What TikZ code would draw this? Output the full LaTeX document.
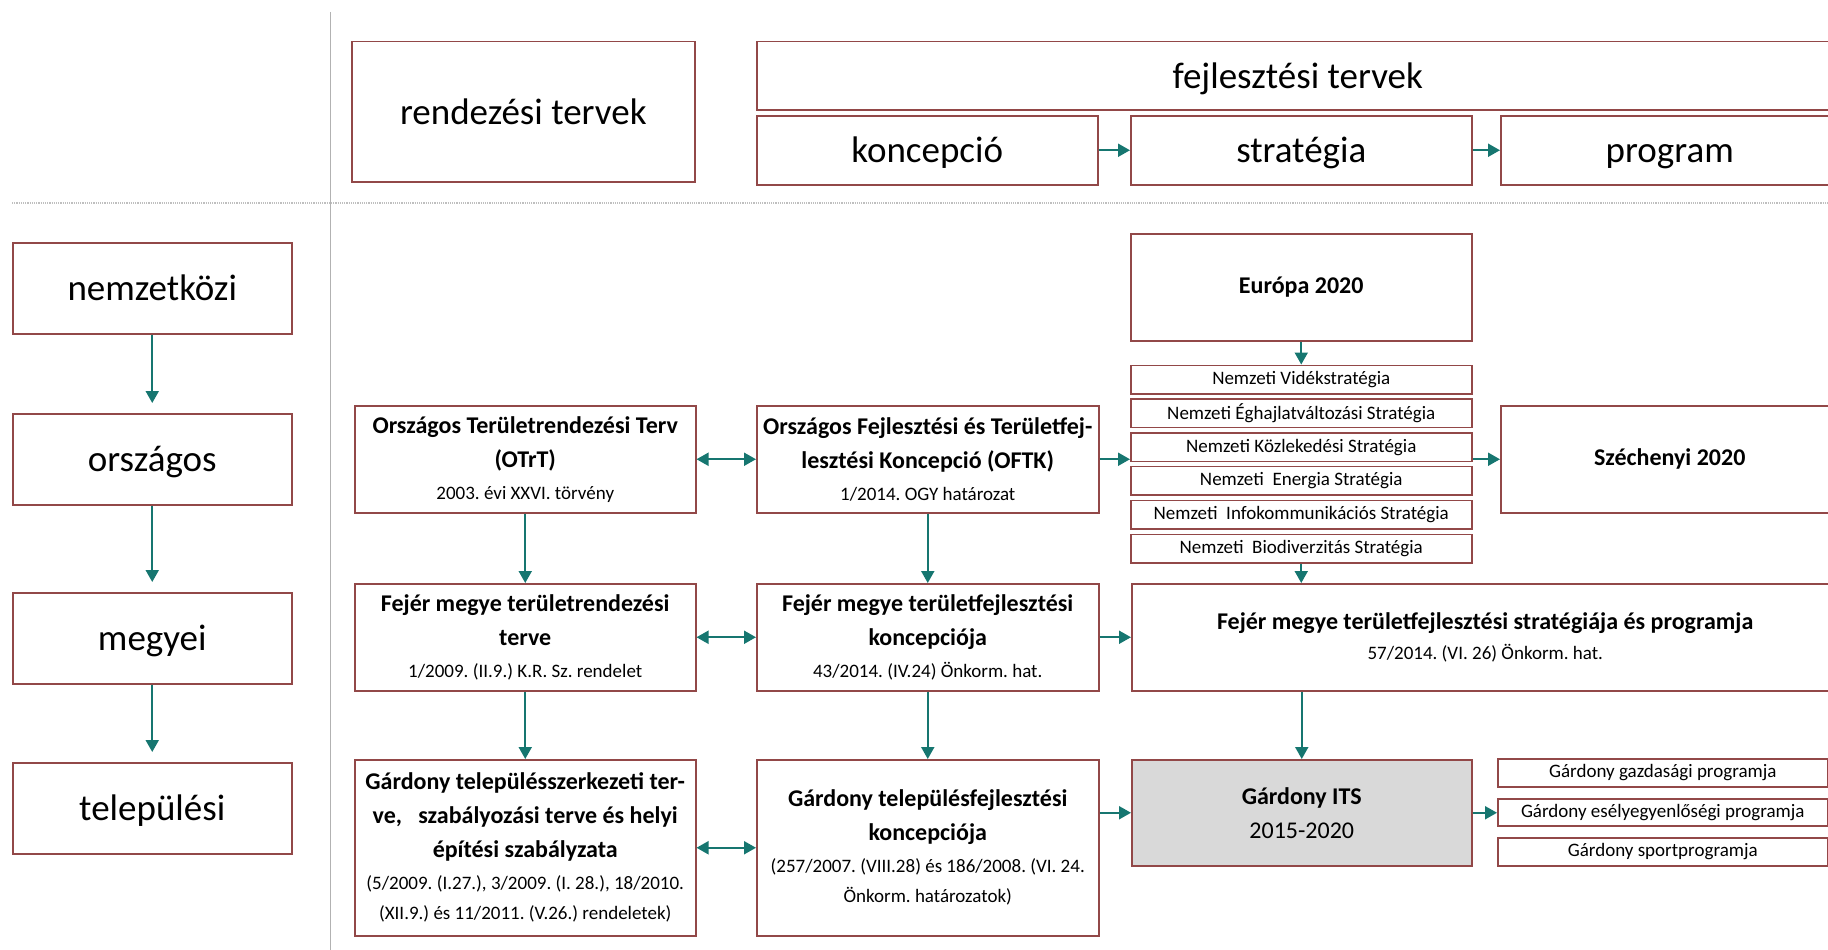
\documentclass[tikz,border=0pt]{standalone}
\usepackage{fontspec}
\setmainfont{Carlito}
\usetikzlibrary{arrows.meta}
\frenchspacing

\definecolor{boxred}{RGB}{146,72,72}
\definecolor{arrowteal}{RGB}{22,118,112}
\definecolor{itsgray}{RGB}{217,217,217}

\tikzset{
	box/.style={draw=boxred, line width=1.5pt, inner sep=0pt, anchor=north west, align=center},
	levelbox/.style={box, font=\fontsize{37}{40}\selectfont, text height=30pt, text depth=5pt},
	planbox/.style={box, font=\fontsize{24}{34}\selectfont\bfseries},
	listbox/.style={box, font=\fontsize{19}{22}\selectfont},
	link/.style={draw=arrowteal, line width=2pt, arrows={-Triangle[length=12pt,width=13pt]}},
	twoway/.style={link, arrows={Triangle[length=12pt,width=13pt]-Triangle[length=12pt,width=13pt]}}
}
\newcommand{\smalltxt}[1]{{\normalfont\fontsize{19}{22}\selectfont #1}}

\begin{document}
\begin{tikzpicture}[x=1pt, y=-1pt]
	\path [use as bounding box, clip] (0,0) rectangle (1828,950);
	% dividers
	\draw [gray!60, line width=0.8pt] (330,12) -- (330,950);
	\draw [gray!50, line width=1.2pt, densely dotted] (12,203) -- (1828,203);

	% header row
	\node [levelbox, minimum width=343pt, minimum height=140pt] (rend) at (351,41) {rendezési tervek};
	\node [levelbox, minimum width=1082pt, minimum height=68pt] (fejl) at (756,41) {fejlesztési tervek};
	\node [levelbox, minimum width=341pt, minimum height=69pt] (konc) at (756,115) {koncepció};
	\node [levelbox, minimum width=341pt, minimum height=69pt] (strat) at (1130,115) {stratégia};
	\node [levelbox, minimum width=338pt, minimum height=69pt] (prog) at (1500,115) {program};
	\draw [link] (konc) -- (strat);
	\draw [link] (strat) -- (prog);

	% levels
	\node [levelbox, minimum width=279pt, minimum height=91pt] (nemz) at (12,242) {nemzetközi};
	\node [levelbox, minimum width=279pt, minimum height=91pt] (orsz) at (12,413) {országos};
	\node [levelbox, minimum width=279pt, minimum height=91pt] (megy) at (12,592) {megyei};
	\node [levelbox, minimum width=279pt, minimum height=91pt] (telep) at (12,762) {települési};
	\draw [link, shorten >=10pt] (nemz) -- (orsz);
	\draw [link, shorten >=10pt] (orsz) -- (megy);
	\draw [link, shorten >=10pt] (megy) -- (telep);

	% national
	\node [planbox, minimum width=341pt, minimum height=107pt] (otrt) at (354,405)
		{Országos Területrendezési Terv\\(OTrT)\\[-2pt]\smalltxt{2003. évi XXVI. törvény}};
	\node [planbox, minimum width=342pt, minimum height=107pt] (oftk) at (756,405)
		{Országos Fejlesztési és Területfej-\\lesztési Koncepció (OFTK)\\[-2pt]\smalltxt{1/2014. OGY határozat}};
	\node [planbox, minimum width=341pt, minimum height=107pt] (europa) at (1130,233) {Európa 2020};
	\node [listbox, minimum width=341pt, minimum height=28.5pt] (nvid) at (1130,364.5) {Nemzeti Vidékstratégia};
	\node [listbox, minimum width=341pt, minimum height=28.5pt] (negh) at (1130,398.3) {Nemzeti Éghajlatváltozási Stratégia};
	\node [listbox, minimum width=341pt, minimum height=28.5pt] (nkoz) at (1130,432.1) {Nemzeti Közlekedési Stratégia};
	\node [listbox, minimum width=341pt, minimum height=28.5pt] (nene) at (1130,465.9) {Nemzeti\ \ Energia Stratégia};
	\node [listbox, minimum width=341pt, minimum height=28.5pt] (ninf) at (1130,499.7) {Nemzeti\ \ Infokommunikációs Stratégia};
	\node [listbox, minimum width=341pt, minimum height=28.5pt] (nbio) at (1130,533.5) {Nemzeti\ \ Biodiverzitás Stratégia};
	\node [planbox, minimum width=338pt, minimum height=107pt] (szech) at (1500,405) {Széchenyi 2020};
	\draw [twoway] (otrt) -- (oftk);
	\draw [link] (oftk) -- (oftk -| nkoz.west);
	\draw [link] (szech -| nkoz.east) -- (szech);
	\draw [link] (europa) -- (nvid);

	% county
	\node [planbox, minimum width=341pt, minimum height=107pt] (fejrend) at (354,583)
		{Fejér megye területrendezési\\terve\\[-2pt]\smalltxt{1/2009. (II.9.) K.R. Sz. rendelet}};
	\node [planbox, minimum width=342pt, minimum height=107pt] (fejkonc) at (756,583)
		{Fejér megye területfejlesztési\\koncepciója\\[-2pt]\smalltxt{43/2014. (IV.24) Önkorm. hat.}};
	\node [planbox, minimum width=707pt, minimum height=107pt] (fejstrat) at (1131,583)
		{Fejér megye területfejlesztési stratégiája és programja\\[-4pt]\smalltxt{57/2014. (VI. 26) Önkorm. hat.}};
	\draw [link] (otrt) -- (fejrend);
	\draw [link] (oftk) -- (fejkonc);
	\draw [link] (nbio) -- (nbio |- fejstrat.north);
	\draw [twoway] (fejrend) -- (fejkonc);
	\draw [link] (fejkonc) -- (fejkonc -| fejstrat.west);

	% local
	\node [planbox, minimum width=341pt, minimum height=176pt] (gszerk) at (354,759)
		{Gárdony településszerkezeti ter-\\ve,\ \ \ szabályozási terve és helyi\\építési szabályzata\\[-2pt]
		\smalltxt{(5/2009. (I.27.), 3/2009. (I. 28.), 18/2010.}\\[-4pt]\smalltxt{(XII.9.) és 11/2011. (V.26.) rendeletek)}};
	\node [planbox, minimum width=342pt, minimum height=176pt] (gfejl) at (756,759)
		{Gárdony településfejlesztési\\koncepciója\\[-2pt]
		\smalltxt{(257/2007. (VIII.28) és 186/2008. (VI. 24.}\\[-4pt]\smalltxt{Önkorm. határozatok)}};
	\node [planbox, fill=itsgray, minimum width=340pt, minimum height=106pt] (its) at (1131,759)
		{Gárdony ITS\\{\mdseries 2015-2020}};
	\node [listbox, minimum width=330pt, minimum height=28pt] (gazd) at (1497,758) {Gárdony gazdasági programja};
	\node [listbox, minimum width=330pt, minimum height=27pt] (esely) at (1497,798) {Gárdony esélyegyenlőségi programja};
	\node [listbox, minimum width=330pt, minimum height=28pt] (sport) at (1497,837) {Gárdony sportprogramja};
	\draw [link] (fejrend) -- (gszerk);
	\draw [link] (fejkonc) -- (gfejl);
	\draw [link] (its.north |- fejstrat.south) -- (its);
	\draw [twoway] (gszerk) -- (gfejl);
	\draw [link] (its -| gfejl.east) -- (its);
	\draw [link] (its) -- (its -| esely.west);
\end{tikzpicture}
\end{document}
